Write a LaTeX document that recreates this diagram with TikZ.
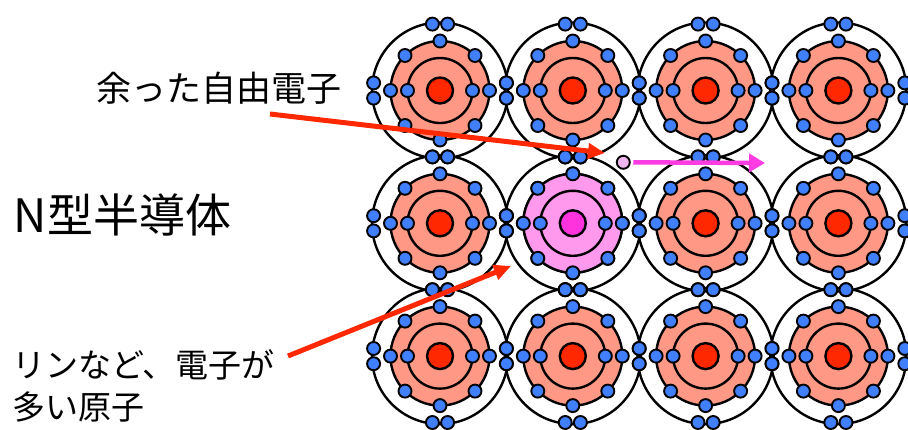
\documentclass[tikz,border=0pt]{standalone}
\usepackage{fontspec}
\setmainfont{Noto Sans CJK JP}
\usetikzlibrary{arrows.meta}

\definecolor{shellfill}{RGB}{255,153,133}
\definecolor{corefill}{RGB}{255,40,0}
\definecolor{elecfill}{RGB}{64,128,255}
\definecolor{donorshell}{RGB}{255,153,238}
\definecolor{donorcore}{RGB}{255,51,221}
\definecolor{freefill}{RGB}{240,182,240}
\definecolor{arrowred}{RGB}{255,40,0}
\definecolor{arrowmag}{RGB}{255,60,225}

\tikzset{
  orbit/.style={draw=black, line width=2.4pt},
  electron/.style={fill=elecfill, draw=black, line width=1.9pt},
  pointer/.style={draw=arrowred, line width=5pt, -{Triangle[length=17pt,width=15pt]}},
  drift/.style={draw=arrowmag, line width=4.5pt, -{Triangle[length=16pt,width=18pt]}},
  label/.style={inner sep=0pt, text=black},
}

% one atom: x, y, shell colour, core colour
\newcommand\latticeatom[4]{%
  \begin{scope}[shift={(#1,#2)}]
    \filldraw[fill=#3, orbit] (0,0) circle[radius=49.5pt];
    \draw[orbit] (0,0) circle[radius=32.5pt];
    \filldraw[fill=#4, orbit] (0,0) circle[radius=13pt];
    \foreach \a in {0,45,...,315}
      \filldraw[electron] (\a:49.5pt) circle[radius=6.5pt];
    \foreach \a in {0,180}
      \filldraw[electron] (\a:32.5pt) circle[radius=6.5pt];
    % bonding pairs shared with the neighbours
    \foreach \p in {(66.4pt,7.6pt),(66.4pt,-7.6pt),(-66.4pt,7.6pt),(-66.4pt,-7.6pt),
                    (7.6pt,66.4pt),(-7.6pt,66.4pt),(7.6pt,-66.4pt),(-7.6pt,-66.4pt)}
      \filldraw[electron] \p circle[radius=6.5pt];
  \end{scope}}

\begin{document}
\begin{tikzpicture}[x=1pt,y=-1pt]
  \useasboundingbox (0,0) rectangle (908,429);

  % outer orbits first, so that the overlapping rings sit beneath everything
  \foreach \cx in {440,572.8,705.6,838.4}
    \foreach \cy in {90.5,223.3,356.1}
      \draw[orbit] (\cx,\cy) circle[radius=68pt];

  % the silicon lattice
  \foreach \cx in {440,572.8,705.6,838.4}
    \foreach \cy in {90.5,223.3,356.1}
      \latticeatom{\cx}{\cy}{shellfill}{corefill};

  % the donor atom in the middle row
  \latticeatom{572.8}{223.3}{donorshell}{donorcore}

  % the surplus electron and its drift
  \node[circle, fill=freefill, draw=black, line width=1.9pt, minimum size=13pt, inner sep=0pt] (free) at (623.3,162.3) {};
  \coordinate (drifttip) at (765,163);
  \draw[drift] ([xshift=2.5pt]free.east) -- (drifttip);

  % labels
  \node[label, font=\fontsize{35}{42}\selectfont] (freelabel) at (219,88) {余った自由電子};
  \node[label, font=\fontsize{46}{55}\selectfont] (ntype) at (122.5,215) {N型半導体};
  \node[label, anchor=north west, align=left, font=\fontsize{33}{42}\selectfont] (donorlabel) at (12,349) {リンなど、電子が\\多い原子};

  % pointers
  \coordinate (freefrom) at (270,114);
  \coordinate (freeto) at (605,153);
  \coordinate (donorfrom) at (288,356);
  \coordinate (donorto) at (511,266);
  \draw[pointer] (freefrom) -- (freeto);
  \draw[pointer] (donorfrom) -- (donorto);
\end{tikzpicture}
\end{document}
